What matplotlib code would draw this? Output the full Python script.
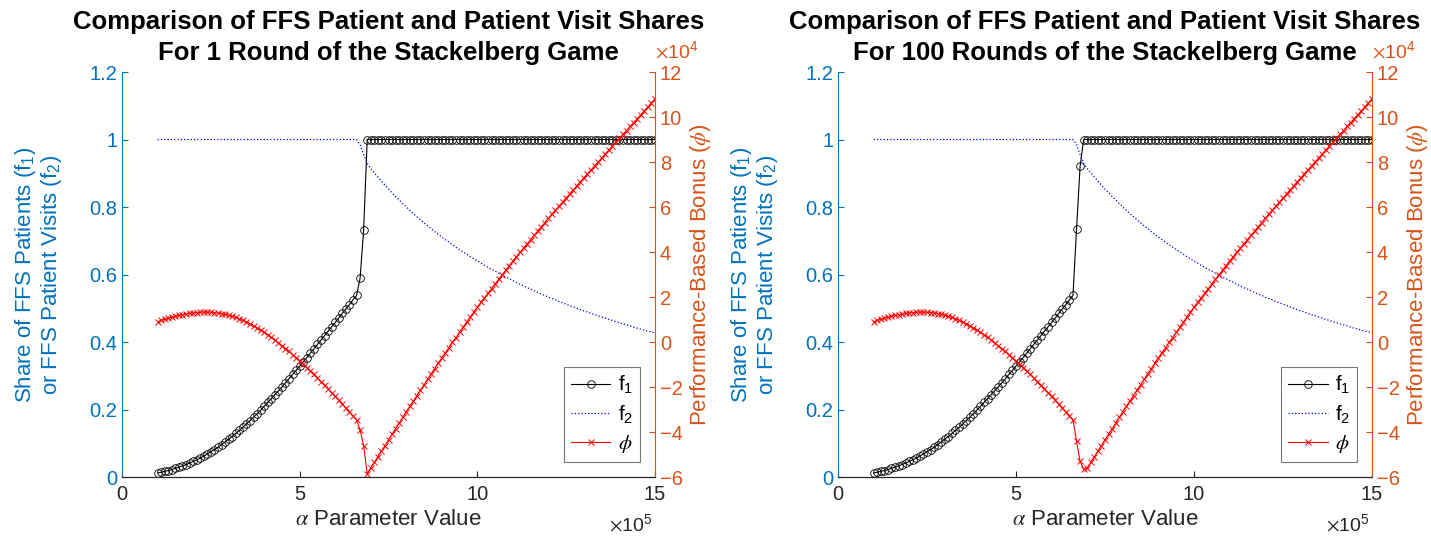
import numpy as np
import matplotlib
matplotlib.use("Agg")
import matplotlib.pyplot as plt

plt.rcParams['font.family'] = ['Liberation Sans', 'DejaVu Sans']
plt.rcParams['mathtext.fontset'] = 'stix'

# alpha grid, in units of 1e5 (1.0 .. 15.0, step 0.1)
alpha = np.round(np.arange(10, 151) / 10.0, 1)

# ---- f1: share of FFS patients ----
f1_pre = [0.012, 0.014, 0.017, 0.019, 0.022, 0.026, 0.029, 0.033, 0.037, 0.041,
          0.046, 0.051, 0.056, 0.062, 0.068, 0.075, 0.081, 0.088, 0.096, 0.104,
          0.112, 0.120, 0.129, 0.138, 0.147, 0.157, 0.167, 0.177, 0.187, 0.198,
          0.209, 0.221, 0.232, 0.244, 0.255, 0.267, 0.279, 0.291, 0.304, 0.316,
          0.329, 0.341, 0.354, 0.367, 0.380, 0.393, 0.406, 0.419, 0.432, 0.445,
          0.458, 0.471, 0.485, 0.498, 0.511, 0.525, 0.538]          # 1.0 .. 6.6
f1_jump_1 = [0.589, 0.732]                                          # 6.7, 6.8
f1_jump_100 = [0.734, 0.921]
f1_top = [1.0] * 82                                                 # 6.9 .. 15.0

# ---- f2: share of FFS patient visits ----
f2_flat = [1.0] * 57                                                # 1.0 .. 6.6
f2_bend = [0.985, 0.955, 0.930]                                     # 6.7 .. 6.9
f2_tail = [0.914, 0.901, 0.889, 0.877, 0.865, 0.853, 0.842, 0.831, 0.821, 0.810,
           0.800, 0.790, 0.780, 0.771, 0.762, 0.753, 0.744, 0.736, 0.727, 0.719,
           0.711, 0.703, 0.696, 0.688, 0.681, 0.674, 0.667, 0.660, 0.653, 0.646,
           0.640, 0.634, 0.627, 0.621, 0.615, 0.610, 0.604, 0.598, 0.593, 0.587,
           0.582, 0.577, 0.571, 0.566, 0.561, 0.557, 0.552, 0.547, 0.542, 0.538,
           0.533, 0.529, 0.525, 0.520, 0.516, 0.512, 0.508, 0.504, 0.500, 0.496,
           0.492, 0.489, 0.485, 0.481, 0.478, 0.474, 0.471, 0.467, 0.464, 0.460,
           0.457, 0.454, 0.451, 0.448, 0.444, 0.441, 0.438, 0.435, 0.432, 0.430,
           0.427]                                                   # 7.0 .. 15.0

# ---- phi: performance-based bonus (x1e4) ----
phi_pre = [0.90, 0.96, 1.01, 1.06, 1.10, 1.14, 1.18, 1.21, 1.24, 1.27,
           1.29, 1.31, 1.32, 1.33, 1.33, 1.32, 1.31, 1.29, 1.26, 1.23,
           1.19, 1.14, 1.09, 1.03, 0.96, 0.89, 0.81, 0.72, 0.63, 0.53,
           0.43, 0.32, 0.21, 0.09, -0.03, -0.16, -0.29, -0.42, -0.56, -0.70,
           -0.84, -0.99, -1.14, -1.29, -1.44, -1.60, -1.76, -1.92, -2.08, -2.25,
           -2.42, -2.59, -2.76, -2.93, -3.10, -3.28, -3.46]         # 1.0 .. 6.6
phi_dip_1 = [-3.90, -4.60, -5.85]                                   # 6.7 .. 6.9
phi_dip_100 = [-4.40, -5.30, -5.65]
phi_rise = [-5.60, -5.35, -5.10, -4.85, -4.60, -4.35, -4.10, -3.85, -3.60, -3.35,
            -3.10, -2.86, -2.62, -2.38, -2.14, -1.90, -1.66, -1.42, -1.18, -0.94,
            -0.70, -0.47, -0.25, -0.02, 0.20, 0.43, 0.65, 0.88, 1.10, 1.33,
            1.55, 1.76, 1.96, 2.17, 2.37, 2.58, 2.78, 2.99, 3.19, 3.40,
            3.60, 3.79, 3.98, 4.17, 4.36, 4.55, 4.74, 4.93, 5.12, 5.31,
            5.50, 5.68, 5.86, 6.04, 6.22, 6.40, 6.58, 6.76, 6.94, 7.12,
            7.30, 7.48, 7.65, 7.83, 8.00, 8.18, 8.35, 8.53, 8.70, 8.88,
            9.05, 9.23, 9.40, 9.58, 9.75, 9.93, 10.10, 10.28, 10.45, 10.63,
            10.80]                                                  # 7.0 .. 15.0

title_top = 'Comparison of FFS Patient and Patient Visit Shares'
title_sub = ['For 1 Round of the Stackelberg Game', 'For 100 Rounds of the Stackelberg Game']
panels = [
    (f1_pre + f1_jump_1 + f1_top, f2_flat + f2_bend + f2_tail, phi_pre + phi_dip_1 + phi_rise),
    (f1_pre + f1_jump_100 + f1_top, f2_flat + f2_bend + f2_tail, phi_pre + phi_dip_100 + phi_rise),
]

BLUE = '#0072BD'
ORANGE = '#D95319'
AXGRAY = '#262626'

fig = plt.figure(figsize=(14.31, 5.37), dpi=100)
positions = [[0.0853, 0.1117, 0.3724, 0.7542], [0.5856, 0.1117, 0.3732, 0.7542]]

for pos, sub, (f1, f2, phi) in zip(positions, title_sub, panels):
    ax = fig.add_axes(pos)
    l1, = ax.plot(alpha, f1, color='k', lw=0.8, marker='o', ms=5.5, mfc='none', mew=0.6)
    l2, = ax.plot(alpha, f2, color='b', lw=0.9, ls=':')
    ax.set_xlim(0, 15)
    ax.set_ylim(0, 1.2)
    ax.set_xticks([0, 5, 10, 15])
    ax.set_yticks([0, 0.2, 0.4, 0.6, 0.8, 1.0, 1.2])
    ax.set_yticklabels(['0', '0.2', '0.4', '0.6', '0.8', '1', '1.2'])

    tw = ax.twinx()
    l3, = tw.plot(alpha, phi, color='r', lw=0.8, marker='x', ms=4.5, mew=0.7)
    tw.set_ylim(-6, 12)
    tw.set_yticks(range(-6, 13, 2))

    for a in (ax, tw):
        a.spines['top'].set_visible(False)
        a.spines['bottom'].set_color(AXGRAY)
        a.spines['bottom'].set_linewidth(0.8)
    ax.spines['right'].set_visible(False)
    tw.spines['left'].set_visible(False)
    ax.spines['left'].set_color(BLUE)
    tw.spines['right'].set_color(ORANGE)

    ax.tick_params(axis='x', direction='in', length=4, colors=AXGRAY, labelsize=14.5, pad=6)
    ax.tick_params(axis='y', direction='in', length=4, colors=BLUE, labelsize=14.5)
    tw.tick_params(axis='y', direction='in', length=4, colors=ORANGE, labelsize=14.5)

    ax.set_xlabel(r'$\alpha$ Parameter Value', fontsize=16, color=AXGRAY, labelpad=3)
    ax.set_ylabel('Share of FFS Patients ($\\mathregular{f_1}$)\nor FFS Patient Visits ($\\mathregular{f_2}$)',
                  fontsize=16, color=BLUE, labelpad=18, linespacing=1.05)
    tw.set_ylabel(r'Performance-Based Bonus ($\phi$)', fontsize=16, color=ORANGE, labelpad=4)

    # two-line bold title, drawn as two centred lines
    ax.set_title(sub, fontsize=18.5, fontweight='bold', pad=9)
    ax.text(0.5, 1.0 + 50 / 405, title_top, transform=ax.transAxes, ha='center', va='center',
            fontsize=18.5, fontweight='bold')

    ax.text(0.995, -0.115, r'$\times\mathregular{10^5}$', transform=ax.transAxes,
            ha='right', va='center', fontsize=14, color=AXGRAY)
    tw.text(1.0, 1.052, r'$\times\mathregular{10^4}$', transform=tw.transAxes,
            ha='left', va='center', fontsize=14, color=ORANGE)

    leg = tw.legend([l1, l2, l3], ['$\\mathregular{f_1}$', '$\\mathregular{f_2}$', r'$\phi$'],
                    loc='lower right', fontsize=15, fancybox=False, handlelength=1.9,
                    borderaxespad=0.7, borderpad=0.35, labelspacing=0.35, handletextpad=0.35)
    leg.get_frame().set_edgecolor('#555555')
    leg.get_frame().set_linewidth(0.8)

fig.savefig('out.png', dpi=100)
